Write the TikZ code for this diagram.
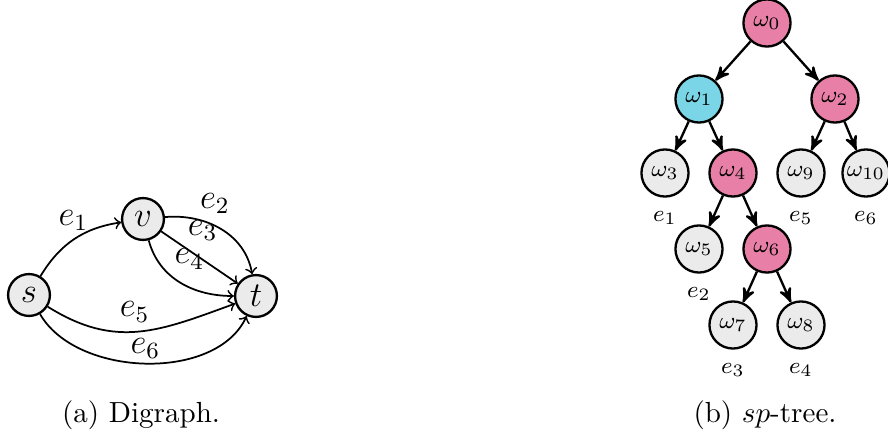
\documentclass[tikz,border=0pt]{standalone}
\usepackage{amsmath}
\usepackage{amssymb}
\usepackage{tikz}
\usetikzlibrary{arrows,positioning,calc}

\definecolor{treepink}{RGB}{232,127,166}
\definecolor{treecyan}{RGB}{122,214,230}
\definecolor{nodegray}{RGB}{235,235,235}

\begin{document}
\begin{tikzpicture}[auto, >=to, semithick, x=0.344pt, y=0.344pt]
\tikzstyle{vert}=[circle,fill=nodegray,draw=black,thick,minimum size=14.4pt,inner sep=0pt,font=\large]
\tikzstyle{elabel}=[font=\large,inner sep=1.5pt]
\tikzstyle{tnode}=[circle,fill=nodegray,draw=black,thick,minimum size=16.2pt,inner sep=0pt,font=\footnotesize]
\tikzstyle{every label}=[font=\footnotesize,label distance=1pt]
\useasboundingbox (0,0) rectangle (888,435);

% (a) the digraph
\node[vert]    (s) at (29,140)  {$s$};
\node[vert]    (v) at (143,216) {$v$};
\node[vert]    (t) at (256,139) {$t$};
\path[->]
(s)   edge[bend left=25]   node[elabel,pos=0.68,inner sep=0pt] {$e_1$} (v)
(v)   edge[out=5,in=100]   node[elabel,pos=0.25] {$e_2$} (t)
(v)   edge                 node[elabel,pos=0.28] {$e_3$} (t)
(v)   edge[out=-75,in=180] node[elabel,pos=0.37,anchor=south west] {$e_4$} (t)
(s)   edge[out=-32,in=200,looseness=1.1] node[elabel,pos=0.6,inner sep=2pt] {$e_5$} (t)
(s)   edge[out=-60,in=245,looseness=0.9] node[elabel,pos=0.5,inner sep=0.3pt,above=1pt] {$e_6$} (t);

% (b) the sp-tree
\node[tnode,fill=treepink] (w0)  at (767,412) {$\omega_0$};
\node[tnode,fill=treecyan] (w1)  at (699,336) {$\omega_1$};
\node[tnode,fill=treepink] (w2)  at (835,336) {$\omega_2$};
\node[tnode,label=below:$e_1$] (w3)  at (665,262) {$\omega_3$};
\node[tnode,fill=treepink] (w4)  at (733,262) {$\omega_4$};
\node[tnode,label=below:$e_5$] (w9)  at (801,262) {$\omega_9$};
\node[tnode,label=below:$e_6$] (w10) at (866,262) {$\omega_{10}$};
\node[tnode,label=below:$e_2$] (w5)  at (699,186) {$\omega_5$};
\node[tnode,fill=treepink] (w6)  at (767,186) {$\omega_6$};
\node[tnode,label=below:$e_3$] (w7)  at (733,110) {$\omega_7$};
\node[tnode,label=below:$e_4$] (w8)  at (801,110) {$\omega_8$};
\path[-stealth', thick]
(w0)  edge (w1)
(w0)  edge (w2)
(w1)  edge (w3)
(w1)  edge (w4)
(w2)  edge (w9)
(w2)  edge (w10)
(w4)  edge (w5)
(w4)  edge (w6)
(w6)  edge (w7)
(w6)  edge (w8);

% captions
\node (capa) at (141,20) {(a) Digraph.};
\node (capb) at (765,20) {(b) $sp$-tree.};
\end{tikzpicture}
\end{document}
